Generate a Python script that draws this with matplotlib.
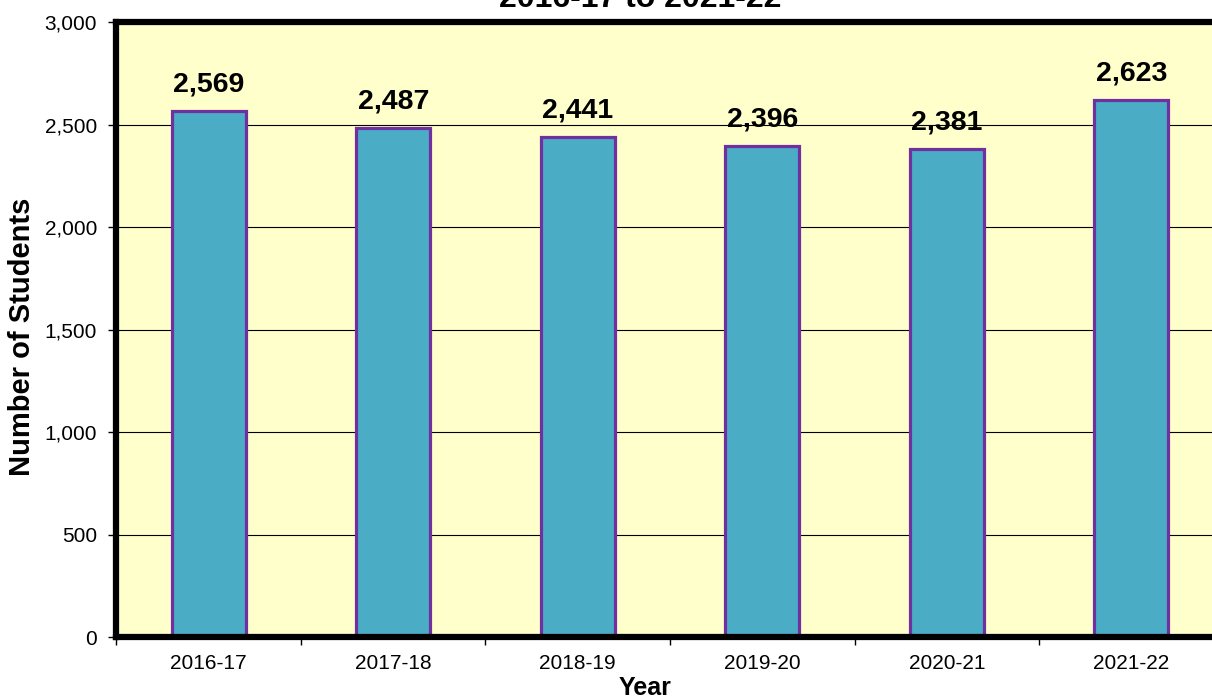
import numpy as np
import matplotlib
matplotlib.use("Agg")
import matplotlib.pyplot as plt

plt.rcParams['font.family'] = ['Liberation Sans', 'DejaVu Sans']

# data
years = ['2016-17', '2017-18', '2018-19', '2019-20', '2020-21', '2021-22']
students = [2569, 2487, 2441, 2396, 2381, 2623]
y_ticks = [0, 500, 1000, 1500, 2000, 2500, 3000]

fig = plt.figure(figsize=(12.12, 6.98), dpi=100)
ax = fig.add_axes([0.0961, 0.0867, 0.9134, 0.8811])
ax.set_facecolor('#FFFFCC')

x = np.arange(len(years))
bars = ax.bar(x, students, width=0.40, color='#4BACC6', edgecolor='#7030A0',
              linewidth=2.3, zorder=3)

# value labels
for xi, v in zip(x, students):
    ax.annotate(f'{v:,}', xy=(xi, v), xytext=(0, 14), textcoords='offset points',
                ha='center', va='baseline', fontsize=20.5, fontweight='bold', zorder=4)

ax.set_xlim(-0.5, len(years) - 0.5)
ax.set_ylim(0, 3000)
ax.set_yticks(y_ticks)
ax.set_yticklabels([f'{t:,}' for t in y_ticks])
ax.yaxis.grid(True, color='black', linewidth=0.8, zorder=1)
ax.set_axisbelow(True)

# x ticks: labels at centers, marks at boundaries
ax.set_xticks(x)
ax.set_xticklabels(years)
ax.set_xticks(np.arange(-0.5, len(years), 1.0), minor=True)
ax.tick_params(axis='x', which='major', length=0, pad=12, labelsize=15)
ax.tick_params(axis='x', which='minor', length=6, width=1, direction='out')
ax.tick_params(axis='y', length=6, width=1, pad=8, labelsize=15)

for side in ['left', 'top', 'bottom', 'right']:
    ax.spines[side].set_linewidth(4.5)
    ax.spines[side].set_color('black')
    ax.spines[side].set_zorder(5)

fig.text(0.018, 0.517, 'Number of Students', rotation=90, ha='center', va='center',
         fontsize=21, fontweight='bold')
fig.text(0.532, 0.0043, 'Year', ha='center', va='baseline', fontsize=18, fontweight='bold')
fig.text(0.528, 0.99, '2016-17 to 2021-22', ha='center', va='baseline',
         fontsize=23, fontweight='bold')

fig.savefig('out.png', dpi=100)
